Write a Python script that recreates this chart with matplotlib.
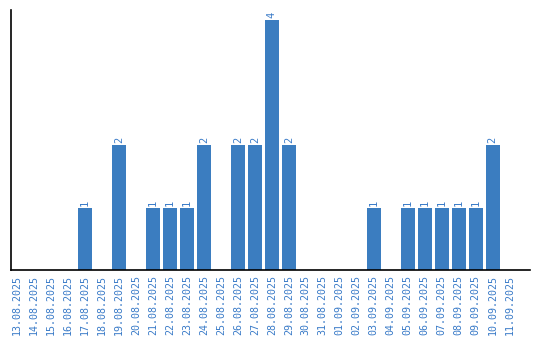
import matplotlib
matplotlib.use("Agg")
import matplotlib.pyplot as plt

dates = ["13.08.2025", "14.08.2025", "15.08.2025", "16.08.2025", "17.08.2025",
         "18.08.2025", "19.08.2025", "20.08.2025", "21.08.2025", "22.08.2025",
         "23.08.2025", "24.08.2025", "25.08.2025", "26.08.2025", "27.08.2025",
         "28.08.2025", "29.08.2025", "30.08.2025", "31.08.2025", "01.09.2025",
         "02.09.2025", "03.09.2025", "04.09.2025", "05.09.2025", "06.09.2025",
         "07.09.2025", "08.09.2025", "09.09.2025", "10.09.2025", "11.09.2025"]
counts = [0, 0, 0, 0, 1, 0, 2, 0, 1, 1, 1, 2, 0, 2, 2, 4, 2, 0, 0, 0,
          0, 1, 0, 1, 1, 1, 1, 1, 2, 0]

bar_color = "#3b7dc0"
text_color = "#3a7bc8"
plt.rcParams["font.family"] = "DejaVu Sans Mono"

fig = plt.figure(figsize=(5.4, 3.4), dpi=100)
ax = fig.add_axes([10.5 / 540, 70 / 340, 519.5 / 540, 260 / 340])

x = list(range(len(dates)))
ax.bar(x, counts, width=0.82, color=bar_color)
for xi, c in zip(x, counts):
    if c > 0:
        ax.text(xi, c + 0.03, str(c), rotation=90, ha="center", va="bottom",
                fontsize=7.5, color=text_color)

ax.set_xlim(-0.38, 30.2)
ax.set_ylim(0, 4.16)
ax.set_xticks(x)
ax.set_xticklabels(dates, rotation=90, fontsize=7.2, color=text_color)
ax.tick_params(axis="x", length=0, pad=3.5)
ax.set_yticks([])
for s in ["top", "right"]:
    ax.spines[s].set_visible(False)
for s in ["left", "bottom"]:
    ax.spines[s].set_color("black")
    ax.spines[s].set_linewidth(1.2)

fig.savefig("out.png", dpi=100)
